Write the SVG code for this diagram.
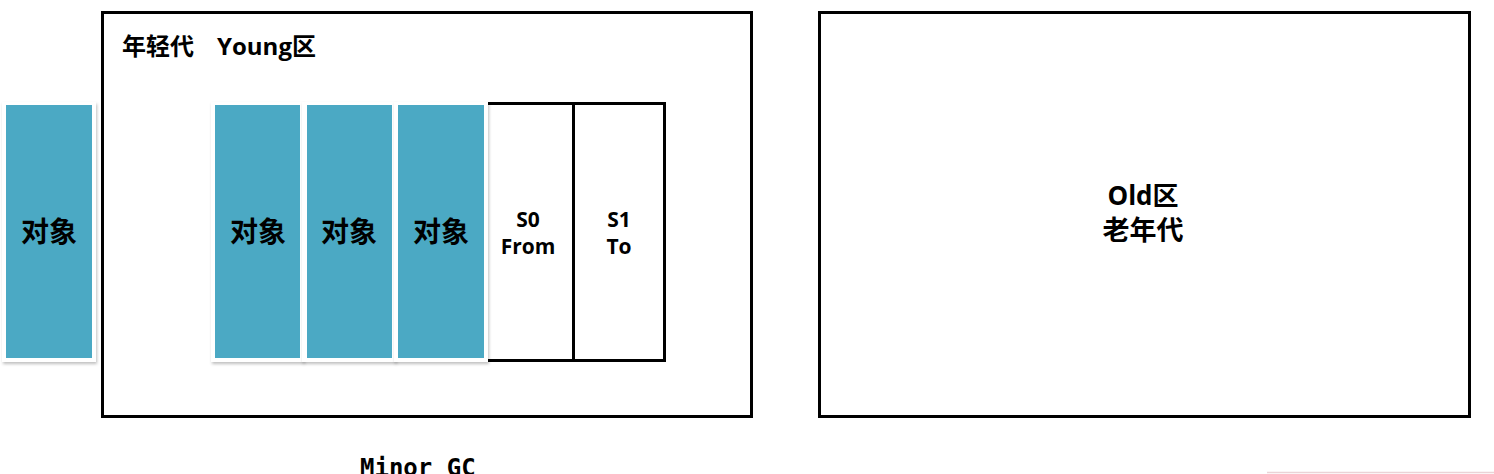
<svg xmlns="http://www.w3.org/2000/svg" width="1494" height="474" viewBox="0 0 1494 474">
<defs>
<filter id="sh" x="-20%" y="-10%" width="140%" height="120%">
<feDropShadow dx="1" dy="2" stdDeviation="1.5" flood-color="#000" flood-opacity="0.25"/>
</filter>
</defs>
<style>
.box{fill:#fff;stroke:#000;stroke-width:3}
.card{fill:#fff;filter:url(#sh)}
.teal{fill:#4BA9C4}
.obj{font-family:"Noto Sans CJK SC","Noto Sans",sans-serif;font-weight:bold;font-size:28px;fill:#000;text-anchor:middle}
.lbl{font-family:"Open Sans","Noto Sans CJK SC",sans-serif;font-weight:bold;fill:#000}
.mid{text-anchor:middle}
.ln{stroke:#000;stroke-width:3;fill:none}
</style>
<rect width="1494" height="474" fill="#fff"/>
<g id="young">
<rect class="box" x="102.5" y="12.5" width="649" height="404"/>
<text class="lbl" font-size="24" y="55"><tspan x="122">年轻代</tspan><tspan x="217">Young区</tspan></text>
</g>
<g id="old">
<rect class="box" x="819.5" y="12.5" width="650" height="404"/>
<text class="lbl mid" font-size="26" x="1143" y="205">Old区</text>
<text class="lbl mid" font-size="27" x="1143" y="240">老年代</text>
</g>
<g id="survivor">
<path class="ln" d="M487 103.5H664.5V360.5H487M573.5 103.5V360.5"/>
<text class="lbl mid" font-size="21" x="528" y="227">S0</text>
<text class="lbl mid" font-size="21" x="528" y="254">From</text>
<text class="lbl mid" font-size="21" x="619" y="227">S1</text>
<text class="lbl mid" font-size="21" x="619" y="254">To</text>
</g>
<g id="obj0">
<rect class="card" x="2" y="102" width="94" height="260"/>
<rect class="teal" x="6" y="105" width="86" height="253"/>
<text class="obj" x="49" y="242">对象</text>
</g>
<g id="obj1">
<rect class="card" x="211" y="102" width="93" height="260"/>
<rect class="teal" x="215" y="105" width="85" height="253"/>
<text class="obj" x="258" y="242">对象</text>
</g>
<g id="obj2">
<rect class="card" x="302" y="102" width="94" height="260"/>
<rect class="teal" x="307" y="105" width="85" height="253"/>
<text class="obj" x="349" y="242">对象</text>
</g>
<g id="obj3">
<rect class="card" x="394" y="102" width="94" height="260"/>
<rect class="teal" x="398" y="105" width="86" height="253"/>
<text class="obj" x="441" y="242">对象</text>
</g>
<g id="connectors"></g>
<text font-family="'DejaVu Sans Mono','Liberation Mono',monospace" font-weight="bold" font-size="24" x="360" y="476">Minor GC</text>
<line x1="1267" y1="472.5" x2="1494" y2="472.5" stroke="#ead3d6" stroke-width="1.5"/>
</svg>
